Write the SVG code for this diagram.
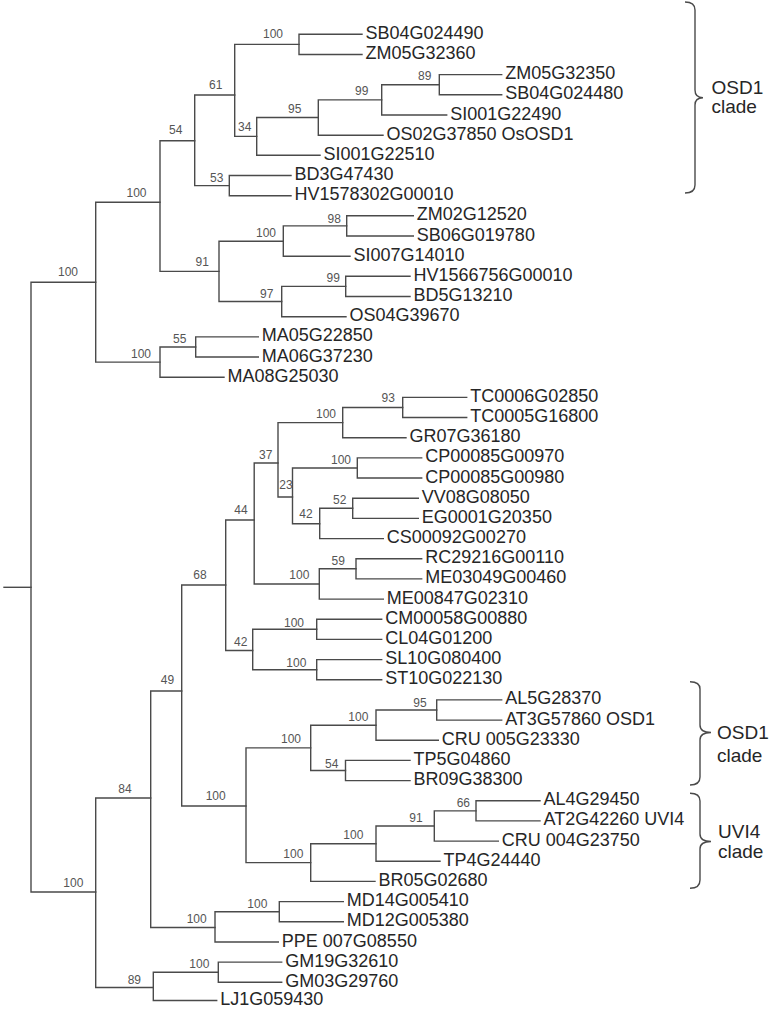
<svg xmlns="http://www.w3.org/2000/svg" width="771" height="1009" viewBox="0 0 771 1009">
<style>
.br{fill:none;stroke:#4a4a4a;stroke-width:1.4;stroke-linecap:square}
.lf{font-family:"Liberation Sans",Arial,sans-serif;font-size:18px;fill:#262626}
.bs{font-family:"Liberation Sans",Arial,sans-serif;font-size:12px;fill:#555}
.cl{font-family:"Liberation Sans",Arial,sans-serif;font-size:19px;fill:#262626}
.bc{fill:none;stroke:#4a4a4a;stroke-width:1.4}
</style>
<rect width="771" height="1009" fill="#fff"/>
<g id="connectors">
<path class="br" d="M501.7 74.6H439.3V94.8H501.7"/>
<path class="br" d="M439.3 84.7H381.7V115H446.7"/>
<path class="br" d="M381.7 99.9H318.3V135.2H383"/>
<path class="br" d="M318.3 117.5H256.7V155.3H320"/>
<path class="br" d="M362 34.3H299V54.5H362"/>
<path class="br" d="M299 44.4H234.7V136.4H256.7"/>
<path class="br" d="M291 175.5H229.3V195.7H291"/>
<path class="br" d="M234.7 95H194.7V185.6H229.3"/>
<path class="br" d="M413.3 215.8H346.7V236H413.3"/>
<path class="br" d="M346.7 225.9H283.3V256.2H350"/>
<path class="br" d="M410 276.3H345.7V296.5H410"/>
<path class="br" d="M345.7 286.4H281.7V316.7H346"/>
<path class="br" d="M283.3 241.3H219V301.5H281.7"/>
<path class="br" d="M194.7 140.7H160V271.4H219"/>
<path class="br" d="M258.3 336.9H195.7V357H258.3"/>
<path class="br" d="M195.7 347H160V377.2H224"/>
<path class="br" d="M160 202.3H95.7V362.1H160"/>
<path class="br" d="M466.7 397.4H402.7V417.5H466.7"/>
<path class="br" d="M402.7 407.5H342.7V437.7H406"/>
<path class="br" d="M421.7 457.9H357.3V478H421.7"/>
<path class="br" d="M418.3 498.2H352.7V518.4H418.3"/>
<path class="br" d="M352.7 508.3H319.7V538.6H383.3"/>
<path class="br" d="M357.3 468H292.5V523.7H319.7"/>
<path class="br" d="M342.7 422.6H278V497H292.5"/>
<path class="br" d="M421.7 558.7H356V578.9H421.7"/>
<path class="br" d="M356 568.8H319.3V599.1H383.3"/>
<path class="br" d="M278 463H254.2V584H319.3"/>
<path class="br" d="M381.7 619.2H316.7V639.4H381.7"/>
<path class="br" d="M381.7 659.6H316.7V679.7H381.7"/>
<path class="br" d="M316.7 629.3H252.7V669.7H316.7"/>
<path class="br" d="M254.2 520H225.7V650.5H252.7"/>
<path class="br" d="M501.7 699.9H436.7V720.1H501.7"/>
<path class="br" d="M436.7 710H376V740.3H438.3"/>
<path class="br" d="M410 760.4H345.5V780.6H410"/>
<path class="br" d="M376 725.2H310.7V770.5H345.5"/>
<path class="br" d="M540 800.8H476V820.9H540"/>
<path class="br" d="M476 810.9H434.3V841.1H498.3"/>
<path class="br" d="M434.3 826H376V861.3H440"/>
<path class="br" d="M376 843.7H310.7V881.4H375"/>
<path class="br" d="M310.7 747.9H246V862.6H310.7"/>
<path class="br" d="M225.7 585H181.7V806H246"/>
<path class="br" d="M343.3 901.6H279.3V921.8H343.3"/>
<path class="br" d="M279.3 911.7H215V942H278.3"/>
<path class="br" d="M181.7 691H150.7V927.5H215"/>
<path class="br" d="M281.7 962.1H218.3V982.3H281.7"/>
<path class="br" d="M218.3 972.2H153.3V1000.5H216.7"/>
<path class="br" d="M150.7 798H95.7V987.5H153.3"/>
<path class="br" d="M95.7 282.3H31V892H95.7"/>
<path class="br" d="M4 587.3H31"/>
</g>
<g id="bootstrap">
<g id="n-e"><text class="bs" x="263" y="38.3">100</text></g>
<g id="n-f"><text class="bs" x="209" y="89.3">61</text></g>
<g id="n-h"><text class="bs" x="169" y="134.2">54</text></g>
<g id="n-a"><text class="bs" x="418" y="80">89</text></g>
<g id="n-b"><text class="bs" x="355" y="95">99</text></g>
<g id="n-c"><text class="bs" x="288" y="113.3">95</text></g>
<g id="n-d"><text class="bs" x="238" y="130.5">34</text></g>
<g id="n-g"><text class="bs" x="210" y="181.7">53</text></g>
<g id="n-n"><text class="bs" x="126.5" y="197.3">100</text></g>
<g id="n-i"><text class="bs" x="327.5" y="222.7">98</text></g>
<g id="n-j"><text class="bs" x="256" y="237.3">100</text></g>
<g id="n-m"><text class="bs" x="195.5" y="265.7">91</text></g>
<g id="n-q"><text class="bs" x="58" y="276">100</text></g>
<g id="n-k"><text class="bs" x="326.5" y="282.3">99</text></g>
<g id="n-l"><text class="bs" x="260" y="297.7">97</text></g>
<g id="n-o"><text class="bs" x="173" y="342.7">55</text></g>
<g id="n-p"><text class="bs" x="131" y="357.7">100</text></g>
<g id="n-r"><text class="bs" x="381.5" y="402.3">93</text></g>
<g id="n-s"><text class="bs" x="316" y="418.3">100</text></g>
<g id="n-x"><text class="bs" x="259" y="459">37</text></g>
<g id="n-t"><text class="bs" x="331" y="464">100</text></g>
<g id="n-w"><text class="bs" x="279.3" y="489.3">23</text></g>
<g id="n-u"><text class="bs" x="333" y="503.5">52</text></g>
<g id="n-v"><text class="bs" x="299.3" y="518.3">42</text></g>
<g id="n-aa"><text class="bs" x="234.3" y="514">44</text></g>
<g id="n-y"><text class="bs" x="331.5" y="565">59</text></g>
<g id="n-z"><text class="bs" x="289.3" y="579.3">100</text></g>
<g id="n-ae"><text class="bs" x="193.3" y="579.3">68</text></g>
<g id="n-ab"><text class="bs" x="284" y="626.7">100</text></g>
<g id="n-ad"><text class="bs" x="234" y="645.7">42</text></g>
<g id="n-ac"><text class="bs" x="286.3" y="667.3">100</text></g>
<g id="n-ao"><text class="bs" x="160.8" y="684.2">49</text></g>
<g id="n-af"><text class="bs" x="413.3" y="706.7">95</text></g>
<g id="n-ag"><text class="bs" x="348.3" y="720.7">100</text></g>
<g id="n-ai"><text class="bs" x="281" y="743.3">100</text></g>
<g id="n-ah"><text class="bs" x="325" y="768.3">54</text></g>
<g id="n-ar"><text class="bs" x="118.3" y="793.3">84</text></g>
<g id="n-an"><text class="bs" x="205.7" y="800">100</text></g>
<g id="n-aj"><text class="bs" x="456.7" y="806.7">66</text></g>
<g id="n-ak"><text class="bs" x="409.3" y="821.7">91</text></g>
<g id="n-al"><text class="bs" x="343.3" y="839.3">100</text></g>
<g id="n-am"><text class="bs" x="283.3" y="858.3">100</text></g>
<g id="n-au"><text class="bs" x="63.3" y="887.3">100</text></g>
<g id="n-ap"><text class="bs" x="247.3" y="908.3">100</text></g>
<g id="n-aq"><text class="bs" x="186.7" y="923.3">100</text></g>
<g id="n-as"><text class="bs" x="189.3" y="968.3">100</text></g>
<g id="n-at"><text class="bs" x="127.7" y="984">89</text></g>
</g>
<g id="leaves">
<g id="leaf-1"><text class="lf" x="365.5" y="38.8">SB04G024490</text></g>
<g id="leaf-2"><text class="lf" x="365.5" y="59">ZM05G32360</text></g>
<g id="leaf-3"><text class="lf" x="505.2" y="79.1">ZM05G32350</text></g>
<g id="leaf-4"><text class="lf" x="505.2" y="99.3">SB04G024480</text></g>
<g id="leaf-5"><text class="lf" x="450.2" y="119.5">SI001G22490</text></g>
<g id="leaf-6"><text class="lf" x="386.5" y="139.7">OS02G37850 OsOSD1</text></g>
<g id="leaf-7"><text class="lf" x="323.5" y="159.8">SI001G22510</text></g>
<g id="leaf-8"><text class="lf" x="294.5" y="180">BD3G47430</text></g>
<g id="leaf-9"><text class="lf" x="294.5" y="200.2">HV1578302G00010</text></g>
<g id="leaf-10"><text class="lf" x="416.8" y="220.3">ZM02G12520</text></g>
<g id="leaf-11"><text class="lf" x="416.8" y="240.5">SB06G019780</text></g>
<g id="leaf-12"><text class="lf" x="353.5" y="260.7">SI007G14010</text></g>
<g id="leaf-13"><text class="lf" x="413.5" y="280.8">HV1566756G00010</text></g>
<g id="leaf-14"><text class="lf" x="413.5" y="301">BD5G13210</text></g>
<g id="leaf-15"><text class="lf" x="349.5" y="321.2">OS04G39670</text></g>
<g id="leaf-16"><text class="lf" x="261.8" y="341.4">MA05G22850</text></g>
<g id="leaf-17"><text class="lf" x="261.8" y="361.5">MA06G37230</text></g>
<g id="leaf-18"><text class="lf" x="227.5" y="381.7">MA08G25030</text></g>
<g id="leaf-19"><text class="lf" x="470.2" y="401.9">TC0006G02850</text></g>
<g id="leaf-20"><text class="lf" x="470.2" y="422">TC0005G16800</text></g>
<g id="leaf-21"><text class="lf" x="409.5" y="442.2">GR07G36180</text></g>
<g id="leaf-22"><text class="lf" x="425.2" y="462.4">CP00085G00970</text></g>
<g id="leaf-23"><text class="lf" x="425.2" y="482.5">CP00085G00980</text></g>
<g id="leaf-24"><text class="lf" x="421.8" y="502.7">VV08G08050</text></g>
<g id="leaf-25"><text class="lf" x="421.8" y="522.9">EG0001G20350</text></g>
<g id="leaf-26"><text class="lf" x="386.8" y="543.1">CS00092G00270</text></g>
<g id="leaf-27"><text class="lf" x="425.2" y="563.2">RC29216G00110</text></g>
<g id="leaf-28"><text class="lf" x="425.2" y="583.4">ME03049G00460</text></g>
<g id="leaf-29"><text class="lf" x="386.8" y="603.6">ME00847G02310</text></g>
<g id="leaf-30"><text class="lf" x="385.2" y="623.7">CM00058G00880</text></g>
<g id="leaf-31"><text class="lf" x="385.2" y="643.9">CL04G01200</text></g>
<g id="leaf-32"><text class="lf" x="385.2" y="664.1">SL10G080400</text></g>
<g id="leaf-33"><text class="lf" x="385.2" y="684.2">ST10G022130</text></g>
<g id="leaf-34"><text class="lf" x="505.2" y="704.4">AL5G28370</text></g>
<g id="leaf-35"><text class="lf" x="505.2" y="724.6">AT3G57860 OSD1</text></g>
<g id="leaf-36"><text class="lf" x="441.8" y="744.8">CRU 005G23330</text></g>
<g id="leaf-37"><text class="lf" x="413.5" y="764.9">TP5G04860</text></g>
<g id="leaf-38"><text class="lf" x="413.5" y="785.1">BR09G38300</text></g>
<g id="leaf-39"><text class="lf" x="543.5" y="805.3">AL4G29450</text></g>
<g id="leaf-40"><text class="lf" x="543.5" y="825.4">AT2G42260 UVI4</text></g>
<g id="leaf-41"><text class="lf" x="501.8" y="845.6">CRU 004G23750</text></g>
<g id="leaf-42"><text class="lf" x="443.5" y="865.8">TP4G24440</text></g>
<g id="leaf-43"><text class="lf" x="378.5" y="885.9">BR05G02680</text></g>
<g id="leaf-44"><text class="lf" x="346.8" y="906.1">MD14G005410</text></g>
<g id="leaf-45"><text class="lf" x="346.8" y="926.3">MD12G005380</text></g>
<g id="leaf-46"><text class="lf" x="281.8" y="946.5">PPE 007G08550</text></g>
<g id="leaf-47"><text class="lf" x="285.2" y="966.6">GM19G32610</text></g>
<g id="leaf-48"><text class="lf" x="285.2" y="986.8">GM03G29760</text></g>
<g id="leaf-49"><text class="lf" x="220.2" y="1005">LJ1G059430</text></g>
</g>
<g id="clade-osd1-monocot">
<path class="bc" d="M685 2Q695 2 695 10V90Q695 97.7 703 97.7Q695 97.7 695 105V185Q695 193 685 193"/>
<text class="cl" x="711.5" y="93.5">OSD1</text>
<text class="cl" x="711.5" y="113.3">clade</text>
</g>
<g id="clade-osd1-dicot">
<path class="bc" d="M690 681.7Q700 681.7 700 689V725Q700 732.5 711 732.5Q700 732.5 700 740V777Q700 785 690 785"/>
<text class="cl" x="717" y="739.3">OSD1</text>
<text class="cl" x="717" y="761.7">clade</text>
</g>
<g id="clade-uvi4">
<path class="bc" d="M690 793.3Q700 793.3 700 801V834Q700 841.5 711 841.5Q700 841.5 700 849V880Q700 888.3 690 888.3"/>
<text class="cl" x="718" y="838.3">UVI4</text>
<text class="cl" x="718" y="858.3">clade</text>
</g>
</svg>
